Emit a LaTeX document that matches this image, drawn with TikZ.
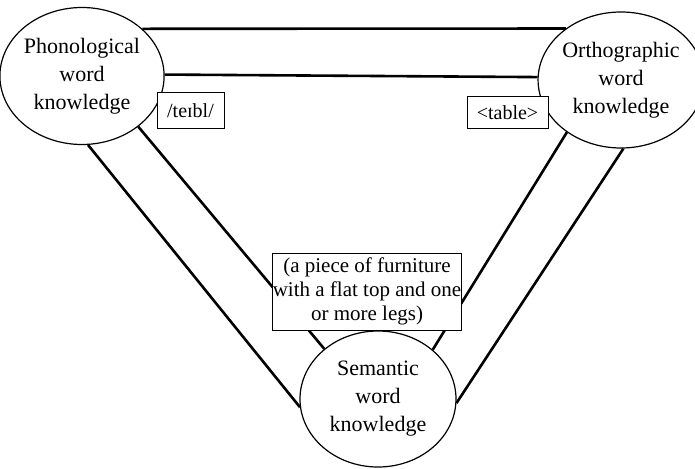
\documentclass[tikz,border=0pt]{standalone}
\usepackage{fontspec}
\setmainfont{Liberation Serif}
\usetikzlibrary{shapes.geometric}
\begin{document}
\begin{tikzpicture}[x=1pt,y=-1pt,
  know/.style={draw,ellipse,line width=1.2pt,inner sep=0pt,align=center,
    font=\fontsize{22}{28}\selectfont},
  link/.style={line width=2.6pt},
  gloss/.style={draw,fill=white,line width=1pt,inner sep=0pt,align=center,
    font=\fontsize{20}{24}\selectfont}]
\useasboundingbox (0,0) rectangle (695,468);
% the three kinds of word knowledge
\node[know,minimum width=150pt,minimum height=137pt] (P) at (82,76)
  {Phonological\\word\\knowledge};
\node[know,minimum width=142pt,minimum height=136pt] (O) at (621,80)
  {Orthographic\\word\\knowledge};
\node[know,minimum width=156pt,minimum height=136pt] (S) at (378,399)
  {Semantic\\word\\knowledge};
% paired links between them
\draw[link] (P.38) -- (O.137);
\draw[link] (P.1) -- (O.178);
\draw[link] (P.-85) -- (S.186);
\draw[link] (P.-42) -- (S.137);
\draw[link] (O.224) -- (S.42);
\draw[link] (O.272) -- (S.357);
% examples
\node[gloss,minimum width=67pt,minimum height=35pt] (pe) at (190.5,110.5) {/teɪbl/};
\node[gloss,minimum width=81pt,minimum height=31pt] (oe) at (507.5,112.5) {<table>};
\node[gloss,minimum width=188pt,minimum height=77pt,
  font=\fontsize{21}{24}\selectfont] (se) at (367,291.5)
  {(a piece of furniture\\with a flat top and one\\or more legs)};
\end{tikzpicture}
\end{document}
